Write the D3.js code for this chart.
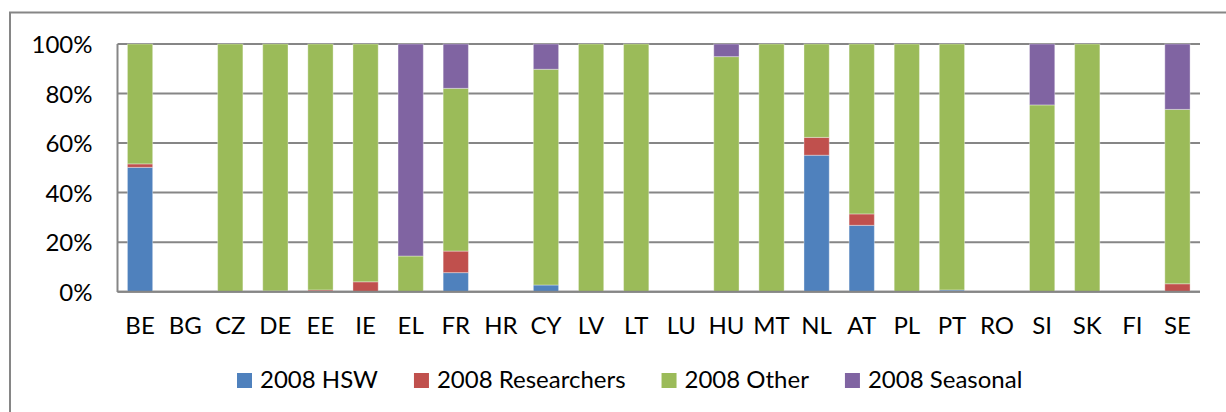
<html>
<head>
  <meta charset="utf-8">
  <script src="https://d3js.org/d3.v7.min.js"></script>
  <style>
    body { margin: 0; background: white; }
    text { font-family: Lato, "Noto Sans", sans-serif; font-size: 24px; fill: #000; }
  </style>
  <script>
    // share of 2008 permits by type, per member state (percent)
    var countries = ["BE","BG","CZ","DE","EE","IE","EL","FR","HR","CY","LV","LT",
                     "LU","HU","MT","NL","AT","PL","PT","RO","SI","SK","FI","SE"];
    var hsw         = [50.2, 0, 0, 0.3, 0,   0, 0,    7.7,  0, 2.7,  0,   0,   0, 0,    0,   55.1, 26.8, 0,   0.7,  0, 0,    0,   0, 0];
    var researchers = [1.4,  0, 0, 0,   0.7, 4, 0,    8.7,  0, 0,    0,   0,   0, 0,    0,   7.2,  4.6,  0,   0,    0, 0,    0,   0, 3.2];
    var other       = [48.4, 0, 100, 99.7, 99.3, 96, 14.4, 65.7, 0, 87.1, 100, 100, 0, 94.9, 100, 37.7, 68.6, 100, 99.3, 0, 75.4, 100, 0, 70.4];
    var seasonal    = [0,    0, 0, 0,   0,   0, 85.6, 17.9, 0, 10.2, 0,   0,   0, 5.1,  0,   0,    0,    0,   0,    0, 24.6, 0,   0, 26.4];

    var seriesNames = ["2008 HSW", "2008 Researchers", "2008 Other", "2008 Seasonal"];
    var seriesColors = ["#4F81BD", "#C0504D", "#9BBB59", "#8064A2"];
    var yTicks = [0, 0.2, 0.4, 0.6, 0.8, 1];

    function drawChart() {
      var svg = d3.select("#chart");

      // outer chart frame (runs off the right and bottom edge)
      svg.append("rect")
        .attr("x", 10).attr("y", 12.5).attr("width", 1240).attr("height", 420)
        .attr("fill", "none").attr("stroke", "#868686").attr("stroke-width", 2);

      var rows = countries.map(function (c, i) {
        var total = hsw[i] + researchers[i] + other[i] + seasonal[i];
        var t = total > 0 ? total : 1;
        return { c: c, k0: hsw[i] / t, k1: researchers[i] / t, k2: other[i] / t, k3: seasonal[i] / t };
      });

      var x = d3.scaleBand().domain(countries).range([117.5, 1200])
        .paddingInner(0.44).paddingOuter(0.22);
      var y = d3.scaleLinear().domain([0, 1]).range([291.7, 44]);

      // gridlines
      svg.append("g").selectAll("line").data(yTicks).enter().append("line")
        .attr("x1", 117.5).attr("x2", 1200)
        .attr("y1", d => y(d)).attr("y2", d => y(d))
        .attr("stroke", "#868686").attr("stroke-width", 2);

      // y axis labels
      var yAxis = d3.axisLeft(y).tickValues(yTicks).tickFormat(d3.format(".0%"))
        .tickSize(0).tickPadding(25);
      var gy = svg.append("g").attr("transform", "translate(117.5,0)").call(yAxis);
      gy.select(".domain").remove();
      gy.selectAll("text").style("font-family", "Lato, sans-serif").style("font-size", "24px")
        .attr("dy", "0.36em");

      // stacked bars
      var stack = d3.stack().keys(["k0", "k1", "k2", "k3"]);
      svg.append("g").selectAll("g").data(stack(rows)).enter().append("g")
        .attr("fill", (d, i) => seriesColors[i])
        .selectAll("rect").data(d => d).enter().append("rect")
        .attr("x", d => x(d.data.c))
        .attr("width", x.bandwidth())
        .attr("y", d => y(d[1]))
        .attr("height", d => y(d[0]) - y(d[1]))
        .attr("stroke", "white").attr("stroke-opacity", 0.35).attr("stroke-width", 1);

      // axis lines
      svg.append("line").attr("x1", 117.5).attr("x2", 117.5).attr("y1", 44).attr("y2", 292)
        .attr("stroke", "#868686").attr("stroke-width", 2);
      svg.append("line").attr("x1", 117.5).attr("x2", 1200).attr("y1", 291.7).attr("y2", 291.7)
        .attr("stroke", "#868686").attr("stroke-width", 2);

      // x axis labels
      var xAxis = d3.axisBottom(x).tickSize(0).tickPadding(0);
      var gx = svg.append("g").attr("transform", "translate(0,291.7)").call(xAxis);
      gx.select(".domain").remove();
      gx.selectAll("text").style("font-family", "Lato, sans-serif").style("font-size", "24px")
        .attr("y", 42).attr("dy", 0);

      // legend
      var lg = svg.append("g");
      var lx = 237;
      seriesNames.forEach(function (name, i) {
        lg.append("rect").attr("x", lx).attr("y", 373).attr("width", 15).attr("height", 15)
          .attr("fill", seriesColors[i]);
        var t = lg.append("text").attr("x", lx + 23).attr("y", 388).text(name);
        lx += 23 + t.node().getComputedTextLength() + 36;
      });
    }
  </script>
</head>
<body onload="drawChart()">
  <svg id="chart" width="1226" height="412"></svg>
</body>
</html>
